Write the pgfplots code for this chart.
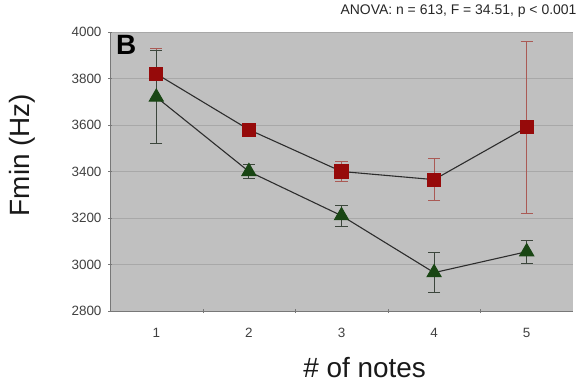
\documentclass[border=0pt]{standalone}
\usepackage{pgfplots}
\pgfplotsset{compat=1.18}
\usepackage{fontspec}
\setmainfont{Liberation Sans}
\definecolor{bgg}{RGB}{192,192,192}
\definecolor{gridc}{RGB}{168,168,168}
\definecolor{axc}{RGB}{120,120,120}
\definecolor{sqred}{RGB}{150,10,10}
\definecolor{errred}{RGB}{170,90,85}
\definecolor{trigreen}{RGB}{25,70,20}
\definecolor{errgreen}{RGB}{60,70,60}
\definecolor{linec}{RGB}{45,45,45}
\begin{document}
\begin{tikzpicture}
\useasboundingbox (0,0) rectangle (584bp,386bp);
\begin{axis}[
  at={(110bp,75bp)}, anchor=south west,
  scale only axis, width=463bp, height=279bp,
  xmin=0.5, xmax=5.5, ymin=2800, ymax=4000,
  ytick={2800,3000,...,4000},
  xtick={1,...,5},
  minor xtick={1.5,2.5,3.5,4.5},
  major x tick style={draw=none},
  minor x tick style={draw=axc},
  y tick style={draw=axc},
  tick align=outside,
  major tick length=4bp, minor tick length=4bp,
  axis lines=left,
  axis line style={-, draw=axc, line width=0.8pt},
  axis background/.style={fill=bgg},
  ymajorgrids,
  grid style={gridc, line width=0.6pt},
  /pgf/number format/assume math mode=true,
  /pgf/number format/set thousands separator={},
  tick label style={font=\fontsize{13.5}{13.5}\selectfont, text=black!75},
  yticklabel style={xshift=-3bp},
  xticklabel style={yshift=-12bp},
  xlabel={\# of notes},
  ylabel={Fmin (Hz)},
  xlabel style={at={(axis description cs:0.55,-0.204)}, anchor=center, font=\fontsize{28}{28}\selectfont, text=black!90},
  ylabel style={at={(axis description cs:-0.189,0.559)}, anchor=center, rotate=0, font=\fontsize{28}{28}\selectfont, text=black!90},
  title={ANOVA: n = 613, F = 34.51, p < 0.001},
  title style={at={(axis description cs:1.015,1.054)}, anchor=east, font=\fontsize{14}{14}\selectfont, text=black!85},
  clip=false,
]
\addplot[linec, line width=1.1pt, mark=square*, mark size=6.5bp,
  mark options={fill=sqred, draw=sqred},
  error bars/.cd, y dir=both, y explicit,
  error bar style={errred, line width=1pt},
  error mark options={rotate=90, mark size=6bp, errred, line width=1pt}]
coordinates {
 (1,3820) +- (0,110)
 (2,3580) +- (0,20)
 (3,3400) +- (0,45)
 (4,3365) +- (0,90)
 (5,3590) +- (0,370)
};
\addplot[linec, line width=1.1pt, mark=triangle*, mark size=8bp,
  mark options={fill=trigreen, draw=trigreen},
  error bars/.cd, y dir=both, y explicit,
  error bar style={errgreen, line width=1pt},
  error mark options={rotate=90, mark size=6bp, errgreen, line width=1pt}]
coordinates {
 (1,3720) +- (0,200)
 (2,3400) +- (0,30)
 (3,3210) +- (0,45)
 (4,2965) +- (0,85)
 (5,3055) +- (0,50)
};
\node[font=\bfseries\fontsize{28}{28}\selectfont, anchor=center] at (axis description cs:0.035,0.955) {B};
\end{axis}
\end{tikzpicture}
\end{document}
